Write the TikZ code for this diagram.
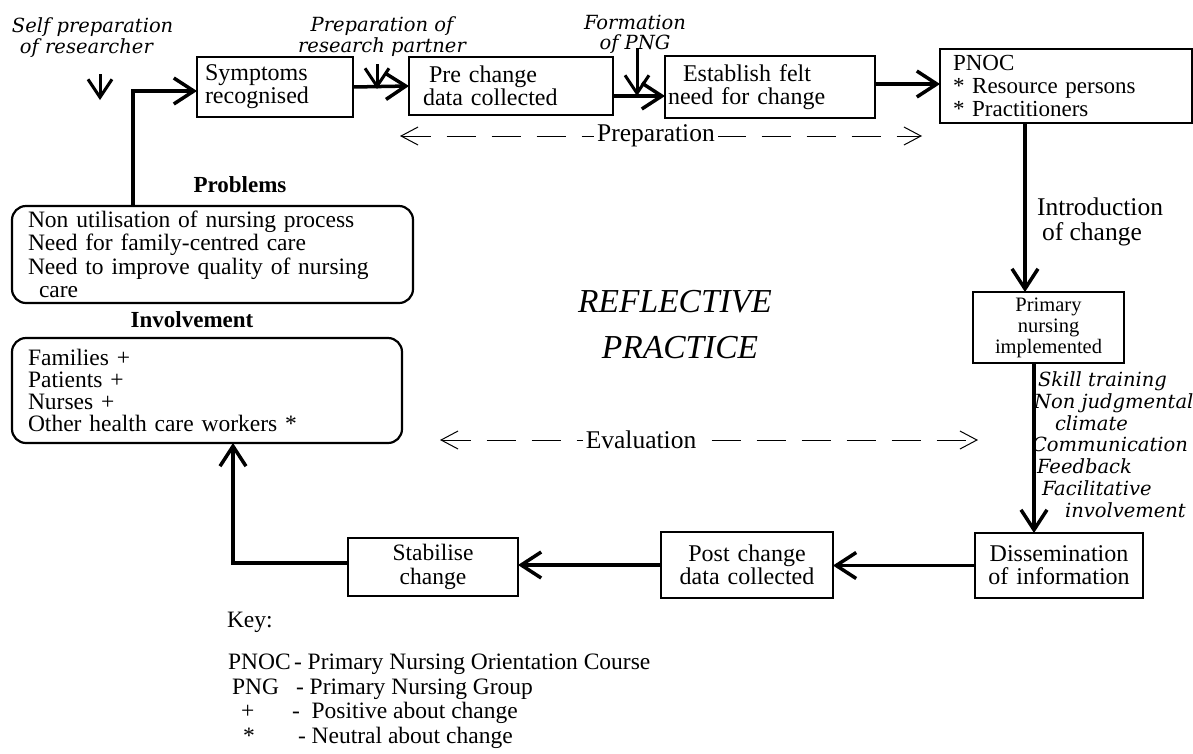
\documentclass[tikz,border=0pt]{standalone}
\usepackage{fontspec}
\setmainfont{Liberation Serif}
\newfontfamily\notefont{DejaVu Serif}
\usetikzlibrary{arrows.meta}
\begin{document}
\begin{tikzpicture}[x=1pt,y=-1pt,
  every node/.style={inner sep=0pt, outer sep=0pt},
  box/.style={draw, line width=2.2pt, inner ysep=0pt, font=\fontsize{24}{23}\selectfont},
  roundbox/.style={box, rounded corners=14pt},
  conn/.style={line width=3.5pt, -{Straight Barb[length=20pt,width=26pt]}},
  drop/.style={line width=3pt, -{Straight Barb[length=18pt,width=24pt]}},
  phase/.style={line width=1pt, dash pattern=on 29pt off 16pt,
    {Straight Barb[length=17pt,width=18pt]}-{Straight Barb[length=17pt,width=18pt]}},
  phaselabel/.style={fill=white, inner xsep=3pt, inner ysep=2pt, font=\fontsize{25.5}{25}\selectfont},
  note/.style={font=\notefont\itshape\fontsize{19.5}{21}\selectfont, align=left},
  heading/.style={font=\fontsize{23}{23}\selectfont\bfseries, anchor=base},
  keytext/.style={font=\fontsize{23.5}{24}\selectfont, anchor=base west},
  bigitalic/.style={font=\fontsize{33.5}{40}\selectfont\itshape, anchor=base},
]
\fill[white] (0,0) rectangle (1193,753);
\useasboundingbox (0,0) rectangle (1193,753);

% ---- top row of steps ----
\node[box, text width=140pt, inner xsep=8pt, align=left, minimum height=60pt] (sym) at (275,87) {Symptoms\\recognised};
\node[box, text width=176pt, inner xsep=14pt, align=left, minimum height=58pt] (pre) at (511,86) {\hspace*{6pt}Pre change\\data collected};
\node[box, text width=204pt, inner xsep=3pt, align=left, minimum height=62pt] (est) at (770,87) {\hspace*{15pt}Establish felt\\need for change};
\node[box, text width=226pt, inner xsep=13pt, align=left, minimum height=74pt, font=\fontsize{23}{23}\selectfont] (pnoc) at (1066,86) {PNOC\\{*} Resource persons\\{*} Practitioners};

% ---- right column ----
\node[box, text width=143pt, inner xsep=4pt, align=center, minimum height=71pt, font=\fontsize{20.5}{21}\selectfont] (prim) at (1048.5,327.5) {Primary\\nursing\\implemented};
\node[box, text width=160pt, inner xsep=4pt, align=center, minimum height=65pt] (diss) at (1059,565.5) {Dissemination\\of information};

% ---- bottom row ----
\node[box, text width=164pt, inner xsep=4pt, align=center, minimum height=66pt] (post) at (747,565) {Post change\\data collected};
\node[box, text width=162pt, inner xsep=4pt, align=center, minimum height=58pt, font=\fontsize{23.5}{24}\selectfont] (stab) at (433,567) {Stabilise\\change};

% ---- left side: problems and involvement ----
\node[heading] (probhead) at (240,192) {Problems};
\node[roundbox, text width=369pt, inner xsep=16pt, align=left, minimum height=97pt, font=\fontsize{23.5}{23.5}\selectfont] (prob) at (212.5,254.5)
  {Non utilisation of nursing process\\Need for family-centred care\\Need to improve quality of nursing\\\hspace*{11pt}care};
\node[heading] (invhead) at (192,327) {Involvement};
\node[roundbox, text width=358pt, inner xsep=16pt, align=left, minimum height=105pt, font=\fontsize{23.5}{22}\selectfont] (inv) at (207,390.5)
  {Families +\\Patients +\\Nurses +\\Other health care workers *};

% ---- centre title ----
\node[bigitalic] (refl1) at (675,312) {REFLECTIVE};
\node[bigitalic] (refl2) at (680,358) {PRACTICE};

% ---- annotations ----
\node[note, anchor=north west] (selfprep) at (12,18) {Self preparation\\\hspace*{8pt}of researcher};
\node[note, align=center, anchor=north] (partner) at (382,17) {Preparation of\\research partner};
\node[note, align=center, anchor=north, font=\notefont\itshape\fontsize{19.5}{20}\selectfont] (formation) at (635,15) {Formation\\of PNG};
\node[note, anchor=north west, font=\notefont\itshape\fontsize{19.5}{21.7}\selectfont] (support) at (1032,372)
  {\hspace*{6pt}Skill training\\\hspace*{2pt}Non judgmental\\\hspace*{23pt}climate\\Communication\\\hspace*{5pt}Feedback\\\hspace*{10pt}Facilitative\\\hspace*{33pt}involvement};
\node[font=\fontsize{25.5}{25}\selectfont, align=left, anchor=north west] (intro) at (1037,198) {Introduction\\\hspace*{5pt}of change};

% ---- small input arrows ----
\coordinate (selftop) at (100,74);
\coordinate (selftip) at (100,100);
\coordinate (parttop) at (377,64);
\coordinate (parttip) at (377,89);
\coordinate (formtop) at (637,48);
\coordinate (formtip) at (637,96);
\draw[drop] (selftop) -- (selftip);
\draw[drop] (parttop) -- (parttip);
\draw[drop] (formtop) -- (formtip);

% ---- main cycle ----
\draw[conn] ([xshift=-79.5pt]prob.north) |- ([yshift=-4pt]sym.west);
\draw[conn] (sym.east) -- (pre.west);
\draw[conn] ([yshift=-10pt]pre.east) -- ([yshift=-10pt]pre.east -| est.west);
\draw[conn] ([yshift=3pt]est.east) -- ([yshift=3pt]est.east -| pnoc.west);
\draw[conn] ([xshift=-41pt]pnoc.south) -- ([xshift=-41pt]pnoc.south |- prim.north);
\draw[conn] ([xshift=-14.5pt]prim.south) -- ([xshift=-14.5pt]prim.south |- diss.north);
\draw[conn] (diss.west) -- (diss.west -| post.east);
\draw[conn] (post.west) -- (post.west -| stab.east);
\draw[conn] ([yshift=4pt]stab.west) -| ([xshift=26pt]inv.south);

% ---- phase spans ----
\coordinate (prepL) at (400,136);
\coordinate (prepR) at (922,136);
\draw[phase] (prepL) -- (prepR);
\node[phaselabel] (preplab) at (656,136) {Preparation};
\coordinate (evalL) at (440,440);
\coordinate (evalR) at (978,440);
\draw[phase] (evalL) -- (evalR);
\node[phaselabel] (evallab) at (641,440) {Evaluation};

% ---- key ----
\node[keytext] (keyhead) at (227,627) {Key:};
\node[keytext] (k1a) at (228,669) {PNOC};
\node[keytext] (k1b) at (294,669) {- Primary Nursing Orientation Course};
\node[keytext] (k2a) at (232,694) {PNG};
\node[keytext] (k2b) at (296,694) {- Primary Nursing Group};
\node[keytext] (k3a) at (241,718) {+};
\node[keytext] (k3b) at (292,718) {-\ \ Positive about change};
\node[keytext] (k4a) at (243,743) {*};
\node[keytext] (k4b) at (298,743) {- Neutral about change};
\end{tikzpicture}
\end{document}
